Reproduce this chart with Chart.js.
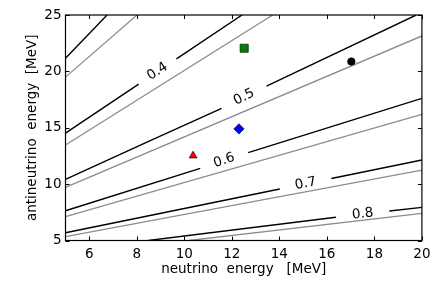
<!DOCTYPE html>
<html>
<head>
<meta charset="utf-8">
<script src="https://cdn.jsdelivr.net/npm/chart.js@4/dist/chart.umd.min.js"></script>
<style>
  html, body { margin: 0; padding: 0; background: #fff; }
  #wrap { width: 436px; height: 291px; }
</style>
</head>
<body>
<div id="wrap"><canvas id="myChart"></canvas></div>
<script>
// tick values
var xTicks = [6, 8, 10, 12, 14, 16, 18, 20];
var yTicks = [5, 10, 15, 20, 25];

// labelled contour levels (black), a [x, null] entry is the gap for the label
var black03 = [[5, 21.17], [6.75, 25]];
var black04 = [[5, 14.53], [8.08, 18.87], [8.9, null], [9.67, 21.11], [12.43, 25]];
var black05 = [[5, 10.43], [8.29, 13.6], [11.57, 16.72], [12.5, null], [13.46, 18.7], [19.76, 25]];
var black06 = [[5, 7.64], [10.67, 11.4], [11.7, null], [12.69, 12.8], [20, 17.61]];
var black07 = [[5, 5.69], [14.02, 9.57], [15.1, null], [16.19, 10.5], [20, 12.14]];
var black08 = [[8.48, 5], [16.38, 7.06], [17.5, null], [18.63, 7.62], [20, 7.94]];

// grey companion curves
var grey03 = [[5, 19.49], [8.01, 25]];
var grey04 = [[5, 13.47], [13.72, 25]];
var grey05 = [[5, 9.72], [20, 23.14]];
var grey06 = [[5, 7.11], [20, 16.19]];
var grey07 = [[5, 5.34], [20, 11.25]];
var grey08 = [[10.2, 5], [20, 7.41]];

// level labels
var levelNames = ['0.4', '0.5', '0.6', '0.7', '0.8'];
var levelLines = [black04, black05, black06, black07, black08];

// single markers
var squarePt = [12.52, 22.05];
var circlePt = [17.03, 20.87];
var diamondPt = [12.3, 14.9];
var trianglePt = [10.37, 12.52];

function toXY(arr) {
    return arr.map(function(p) { return {x: p[0], y: p[1]}; });
}

function lineSet(arr, color, width) {
    return {
        type: 'line',
        data: toXY(arr),
        borderColor: color,
        borderWidth: width,
        pointRadius: 0,
        showLine: true,
        spanGaps: false,
        fill: false,
        order: 2
    };
}

function markerSet(pt, style, radius, color) {
    return {
        type: 'scatter',
        data: toXY([pt]),
        pointStyle: style,
        pointRadius: radius,
        pointHoverRadius: radius,
        backgroundColor: color,
        borderColor: '#000',
        borderWidth: 0.6,
        order: 0
    };
}

var FONT = '"DejaVu Sans", "Liberation Sans", sans-serif';

var datasets = [
    markerSet(squarePt, 'rect', 5.8, '#008000'),
    markerSet(circlePt, 'circle', 3.8, '#000000'),
    markerSet(diamondPt, 'rectRot', 5.2, '#0000ff'),
    markerSet(trianglePt, 'triangle', 4.6, '#ff0000')
];
[grey03, grey04, grey05, grey06, grey07, grey08].forEach(function(g) {
    datasets.push(lineSet(g, '#8c8c8c', 1.3));
});
[black03, black04, black05, black06, black07, black08].forEach(function(b) {
    datasets.push(lineSet(b, '#000000', 1.4));
});

// level labels + frame with inward ticks, matplotlib style
var framePlugin = {
    id: 'frame',
    afterDatasetsDraw: function(chart) {
        var ctx = chart.ctx;
        var xs = chart.scales.x, ys = chart.scales.y;
        ctx.save();
        ctx.font = '13.5px ' + FONT;
        ctx.fillStyle = '#000';
        ctx.textAlign = 'center';
        ctx.textBaseline = 'middle';
        levelLines.forEach(function(line, i) {
            var k = line.findIndex(function(p) { return p[1] === null; });
            var a = line[k - 1], b = line[k + 1];
            var ax = xs.getPixelForValue(a[0]), ay = ys.getPixelForValue(a[1]);
            var bx = xs.getPixelForValue(b[0]), by = ys.getPixelForValue(b[1]);
            ctx.save();
            ctx.translate((ax + bx) / 2, (ay + by) / 2);
            ctx.rotate(Math.atan2(by - ay, bx - ax));
            ctx.fillText(levelNames[i], 0, 0);
            ctx.restore();
        });
        ctx.restore();
    },
    afterDraw: function(chart) {
        var ctx = chart.ctx, area = chart.chartArea;
        var xs = chart.scales.x, ys = chart.scales.y;
        var t = 4;
        ctx.save();
        ctx.strokeStyle = '#000';
        ctx.lineWidth = 1;
        ctx.beginPath();
        xTicks.forEach(function(v) {
            var px = Math.round(xs.getPixelForValue(v)) + 0.5;
            ctx.moveTo(px, area.bottom); ctx.lineTo(px, area.bottom - t);
            ctx.moveTo(px, area.top); ctx.lineTo(px, area.top + t);
        });
        yTicks.forEach(function(v) {
            var py = Math.round(ys.getPixelForValue(v)) + 0.5;
            ctx.moveTo(area.left, py); ctx.lineTo(area.left + t, py);
            ctx.moveTo(area.right, py); ctx.lineTo(area.right - t, py);
        });
        ctx.stroke();
        ctx.lineWidth = 1.2;
        ctx.strokeRect(area.left, area.top, area.right - area.left, area.bottom - area.top);
        ctx.restore();
    }
};

var ctx = document.getElementById('myChart').getContext('2d');
var myChart = new Chart(ctx, {
    type: 'scatter',
    data: { datasets: datasets },
    options: {
        responsive: true,
        maintainAspectRatio: false,
        animation: false,
        events: [],
        layout: { padding: { left: 0, top: 15, right: 13.7, bottom: 0 } },
        plugins: {
            legend: { display: false },
            tooltip: { enabled: false },
            title: { display: false }
        },
        scales: {
            x: {
                type: 'linear',
                min: 5,
                max: 20,
                grid: { display: false, drawTicks: false, tickLength: 0 },
                border: { display: false },
                afterBuildTicks: function(scale) {
                    scale.ticks = xTicks.map(function(v) { return {value: v}; });
                },
                afterFit: function(scale) { scale.height = 50.5; },
                ticks: {
                    color: '#000',
                    padding: 5.5,
                    maxRotation: 0,
                    font: { family: FONT, size: 13.5 }
                },
                title: {
                    display: true,
                    text: 'neutrino  energy   [MeV]',
                    color: '#000',
                    padding: { top: 0, bottom: 13 },
                    font: { family: FONT, size: 13.5 }
                }
            },
            y: {
                type: 'linear',
                min: 5,
                max: 25,
                grid: { display: false, drawTicks: false, tickLength: 0 },
                border: { display: false },
                afterBuildTicks: function(scale) {
                    scale.ticks = yTicks.map(function(v) { return {value: v}; });
                },
                afterFit: function(scale) { scale.width = 65.5; },
                ticks: {
                    color: '#000',
                    padding: 4,
                    font: { family: FONT, size: 13.5 }
                },
                title: {
                    display: true,
                    text: 'antineutrino  energy  [MeV]',
                    color: '#000',
                    padding: { top: 24, bottom: 0 },
                    font: { family: FONT, size: 13.5 }
                }
            }
        }
    },
    plugins: [framePlugin]
});
</script>
</body>
</html>
